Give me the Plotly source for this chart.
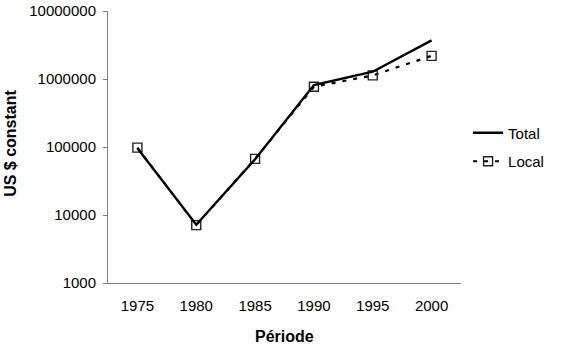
import plotly.graph_objects as go

periods = ["1975", "1980", "1985", "1990", "1995", "2000"]
total = [96000, 7200, 66000, 815000, 1280000, 3700000]
local = [98000, 7100, 67000, 770000, 1130000, 2190000]
y_ticks = [1000, 10000, 100000, 1000000, 10000000]
y_tick_labels = ["1000", "10000", "100000", "1000000", "10000000"]

FONT = "Liberation Sans, Arial, sans-serif"

fig = go.Figure()
fig.add_trace(go.Scatter(
    x=periods, y=local, name="Local", mode="lines+markers",
    line=dict(color="black", width=2.2, dash="4px,7px"),
    marker=dict(symbol="square-open", size=9, color="#222222", line=dict(width=1.4)),
    legendgroup="b", legendrank=2,
))
fig.add_trace(go.Scatter(
    x=periods, y=total, name="Total", mode="lines",
    line=dict(color="black", width=2.4),
    legendgroup="a", legendrank=1,
))

fig.update_layout(
    width=568, height=355,
    margin=dict(l=108, r=107, t=11, b=72, autoexpand=False),
    paper_bgcolor="white", plot_bgcolor="white",
    font=dict(family=FONT, size=15, color="black"),
    showlegend=True,
    legend=dict(x=1.02, y=0.50, xanchor="left", yanchor="middle",
                font=dict(size=15, family=FONT), tracegroupgap=6,
                bgcolor="rgba(0,0,0,0)", itemwidth=30),
    xaxis=dict(type="category", range=[-0.5, 5.5], showline=True,
               linecolor="#808080", linewidth=1, ticks="", showgrid=False,
               zeroline=False, tickfont=dict(size=15, family=FONT),
               ticklabelstandoff=9, automargin=False),
    yaxis=dict(type="log", range=[3, 7], showline=True, linecolor="#808080",
               linewidth=1, ticks="outside", ticklen=4, tickcolor="#808080",
               tickvals=y_ticks, ticktext=y_tick_labels, showgrid=False,
               zeroline=False, tickfont=dict(size=15, family=FONT),
               ticklabelstandoff=4, automargin=False),
    annotations=[
        dict(text="<b>US $ constant</b>", xref="paper", yref="paper",
             x=-0.275, y=0.515, xanchor="center", yanchor="middle",
             textangle=-90, showarrow=False, font=dict(size=16, family=FONT)),
        dict(text="<b>Période</b>", xref="paper", yref="paper",
             x=(284 - 108) / 353, y=(283.3 - 337) / 272.6, xanchor="center",
             yanchor="middle", showarrow=False, font=dict(size=16, family=FONT)),
    ],
)

fig.write_html("out.html")
